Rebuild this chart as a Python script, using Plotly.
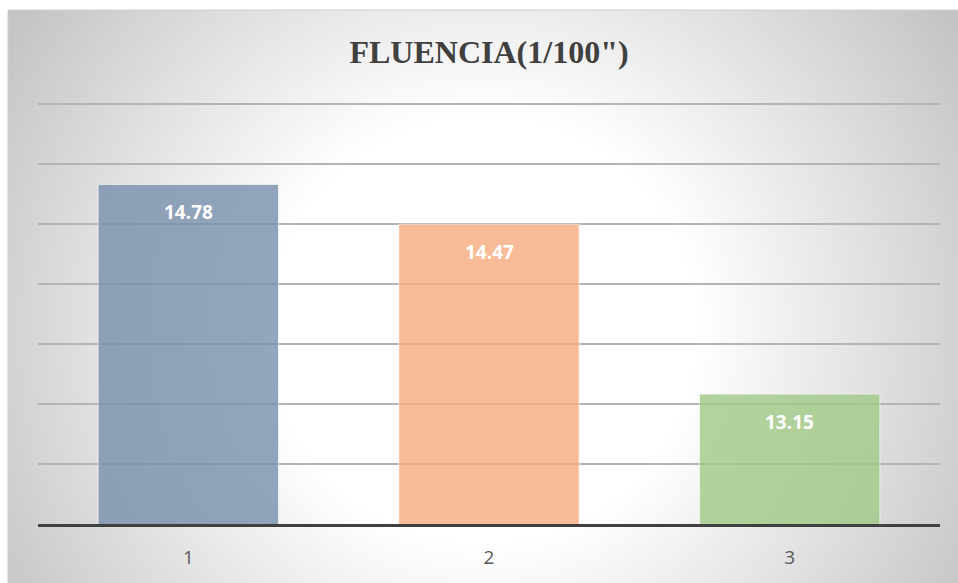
import base64
import plotly.graph_objects as go

# Data
categories = ["1", "2", "3"]
values = [14.78, 14.47, 13.15]
bar_colors = ["#7890ae", "#f6ac7e", "#a2ca87"]
title_text = "FLUENCIA(1/100\")"

# Figure geometry (pixels); the plot area reaches 2px above the top grid line
W, H = 958, 583
L, R, T, B = 38, 18, 102, 59
plot_w = W - L - R
plot_h = H - T - B

# Value axis: seven equal grid intervals, no tick labels
y_min, y_top_grid = 12.14, 15.405
n_grid = 7
step = (y_top_grid - y_min) / n_grid
grid_vals = [y_min + k * step for k in range(1, n_grid + 1)]
px_per_unit = (plot_h - 2) / (y_top_grid - y_min)
y_max = y_top_grid + 2 / px_per_unit


def px_to_paper_x(px):
    return (px - L) / plot_w


def px_to_paper_y(py):
    return (H - B - py) / plot_h


# Soft radial backdrop for the chart area
svg = (
    '<svg xmlns="http://www.w3.org/2000/svg" width="950" height="573" '
    'viewBox="0 0 950 573" preserveAspectRatio="none"><defs>'
    '<radialGradient id="g" gradientUnits="userSpaceOnUse" cx="475" cy="320" r="560">'
    '<stop offset="0" stop-color="#ffffff"/>'
    '<stop offset="0.38" stop-color="#ffffff"/>'
    '<stop offset="1" stop-color="#c4c4c4"/>'
    '</radialGradient></defs>'
    '<rect width="950" height="573" fill="url(#g)"/></svg>'
)
bg_src = "data:image/svg+xml;base64," + base64.b64encode(svg.encode()).decode()

fig = go.Figure()
fig.add_trace(
    go.Bar(
        x=categories,
        y=values,
        marker=dict(
            color=bar_colors,
            opacity=0.8,
            line=dict(color="rgba(255,255,255,0.7)", width=1),
        ),
        hoverinfo="skip",
    )
)

# Value labels inside the top of each bar (x given as category index)
for i, v in enumerate(values):
    fig.add_annotation(
        x=i,
        y=v,
        text=f"{v:.2f}",
        showarrow=False,
        yshift=-28,
        font=dict(family="Open Sans", size=19, color="white", weight="bold"),
    )

x0 = px_to_paper_x(8)
x1 = px_to_paper_x(W)
y0 = px_to_paper_y(H)
y1 = px_to_paper_y(10)

fig.update_layout(
    width=W,
    height=H,
    margin=dict(l=L, r=R, t=T, b=B, pad=0),
    paper_bgcolor="white",
    plot_bgcolor="rgba(0,0,0,0)",
    showlegend=False,
    bargap=0.4,
    title=dict(
        text=title_text,
        x=489 / W,
        xanchor="center",
        y=1 - 52 / H,
        yanchor="middle",
        font=dict(family="Liberation Serif", size=32, color="#404040", weight="bold"),
    ),
    images=[
        dict(
            source=bg_src,
            xref="paper",
            yref="paper",
            x=x0,
            y=y1,
            sizex=x1 - x0,
            sizey=y1 - y0,
            sizing="stretch",
            xanchor="left",
            yanchor="top",
            layer="below",
        )
    ],
    shapes=[
        dict(
            type="rect",
            xref="paper",
            yref="paper",
            x0=x0,
            x1=x1 + 0.01,
            y0=y0 - 0.01,
            y1=y1,
            line=dict(color="#cfcfcf", width=1),
            fillcolor="rgba(0,0,0,0)",
            layer="below",
        )
    ],
    xaxis=dict(
        type="category",
        categoryorder="array",
        categoryarray=categories,
        showgrid=False,
        showline=True,
        linecolor="#404040",
        linewidth=3,
        ticks="",
        tickfont=dict(family="Open Sans", size=19, color="#595959"),
        ticklabelstandoff=14,
    ),
    yaxis=dict(
        range=[y_min, y_max],
        tickmode="array",
        tickvals=grid_vals,
        showticklabels=False,
        showgrid=True,
        gridcolor="#b4b4b4",
        gridwidth=1.5,
        zeroline=False,
        showline=False,
        ticks="",
    ),
)

fig.write_html("out.html")
